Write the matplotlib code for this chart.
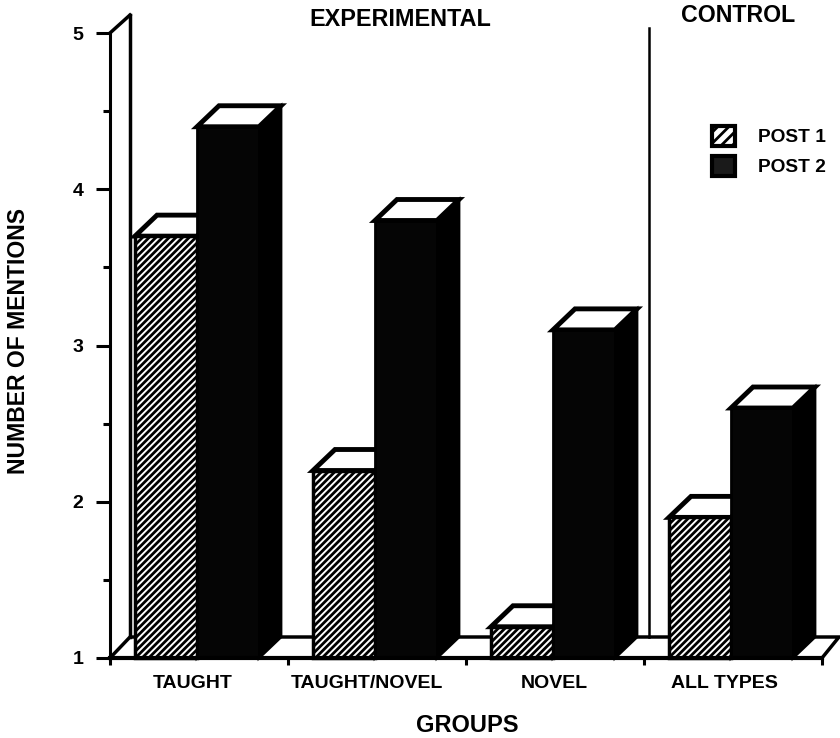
import matplotlib
matplotlib.use('Agg')
import matplotlib.pyplot as plt
from matplotlib.patches import Polygon, Rectangle, Patch

plt.rcParams['font.family'] = ['Liberation Sans', 'DejaVu Sans']
plt.rcParams['font.weight'] = 'bold'
plt.rcParams['hatch.linewidth'] = 2.0

groups = ['TAUGHT', 'TAUGHT/NOVEL', 'NOVEL', 'ALL TYPES']
post1 = [3.7, 2.2, 1.2, 1.9]
post2 = [4.4, 3.8, 3.1, 2.6]
yticks = [1, 2, 3, 4, 5]
series_names = ['POST 1', 'POST 2']

# pixel scale of the original figure
W, H = 840, 738
left, right, y1_px, y5_px = 110, 822, 658, 33
px_per_unit = (y1_px - y5_px) / 4.0
dx = 22
dy = 21 / px_per_unit

group_step = 178
first_bar = 25
bar_w = 62

fig = plt.figure(figsize=(W / 100, H / 100), dpi=100)
ax = fig.add_axes([left / W, 1 - y1_px / H, (right - left) / W, (y1_px - y5_px) / H])
ax.set_xlim(0, right - left)
ax.set_ylim(1, 5)


def draw_bar(x, val, hatched):
    # front face, then the black side and the white top
    if hatched:
        face = Rectangle((x, 1), bar_w, val - 1, facecolor='white', edgecolor='black',
                         hatch='/////', lw=2.5, zorder=3, clip_on=False)
    else:
        face = Rectangle((x, 1), bar_w, val - 1, facecolor='#050505', edgecolor='black',
                         lw=2, zorder=3, clip_on=False)
    side = Polygon([(x + bar_w, 1), (x + bar_w + dx, 1 + dy), (x + bar_w + dx, val + dy), (x + bar_w, val)],
                   facecolor='black', edgecolor='black', lw=2, zorder=3, clip_on=False)
    top = Polygon([(x, val), (x + bar_w, val), (x + bar_w + dx, val + dy), (x + dx, val + dy)],
                  facecolor='white', edgecolor='black', lw=3.5, zorder=3, clip_on=False)
    ax.add_patch(side)
    ax.add_patch(top)
    ax.add_patch(face)


# floor and walls
floor = Polygon([(0, 1), (right - left, 1), (right - left + 17, 1 + dy), (20, 1 + dy)],
                facecolor='white', edgecolor='black', lw=2.5, zorder=1, clip_on=False)
ax.add_patch(floor)
ax.plot([20, 20], [1 + dy, 5 + 18 / px_per_unit], color='black', lw=2.5, zorder=1, clip_on=False)
ax.plot([0, 20], [5, 5 + 18 / px_per_unit], color='black', lw=2.5, zorder=1, clip_on=False)
ax.plot([539, 539], [1 + dy, 5 + 5 / px_per_unit], color='black', lw=1.8, zorder=1, clip_on=False)

for i in range(len(groups)):
    x0 = first_bar + i * group_step
    draw_bar(x0, post1[i], True)
    draw_bar(x0 + bar_w, post2[i], False)

for s in ['top', 'right']:
    ax.spines[s].set_visible(False)
ax.spines['left'].set_linewidth(2.2)
ax.spines['bottom'].set_linewidth(3)
ax.spines['bottom'].set_zorder(4)

ax.set_yticks(yticks)
ax.set_yticks([1.5, 2.5, 3.5, 4.5], minor=True)
ax.set_yticklabels([str(v) for v in yticks], fontsize=14)
ax.tick_params(axis='y', which='major', length=10, width=2.2, pad=9)
ax.tick_params(axis='y', which='minor', length=5, width=2.2)

ax.set_xticks([i * group_step for i in range(5)])
ax.set_xticklabels([])
ax.set_xticks([83, 257, 444, 614], minor=True)
ax.set_xticklabels(groups, minor=True, fontsize=14)
ax.tick_params(axis='x', which='major', length=5, width=2.2)
ax.tick_params(axis='x', which='minor', length=0, pad=12)

fig.text(467 / W, 1 - 725 / H, 'GROUPS', fontsize=17, ha='center', va='center')
fig.text(19 / W, 1 - 341 / H, 'NUMBER OF MENTIONS', rotation=90, fontsize=16.6,
         ha='center', va='center')
fig.text(400 / W, 1 - 20 / H, 'EXPERIMENTAL', fontsize=16.8, ha='center', va='center')
fig.text(738 / W, 1 - 15 / H, 'CONTROL', fontsize=16.7, ha='center', va='center')

handles = [Patch(facecolor='white', edgecolor='black', hatch='///', lw=3, label=series_names[0]),
           Patch(facecolor='#1a1a1a', edgecolor='black', lw=3, label=series_names[1])]
ax.legend(handles=handles, loc='upper left', bbox_to_anchor=((712 - left) / (right - left), 1 - (126 - y5_px) / (y1_px - y5_px)),
          frameon=False, fontsize=13.8, handlelength=1.2, handleheight=1.2, handletextpad=1.2,
          labelspacing=0.5, borderaxespad=0, borderpad=0)

fig.savefig('out.png', dpi=100)
